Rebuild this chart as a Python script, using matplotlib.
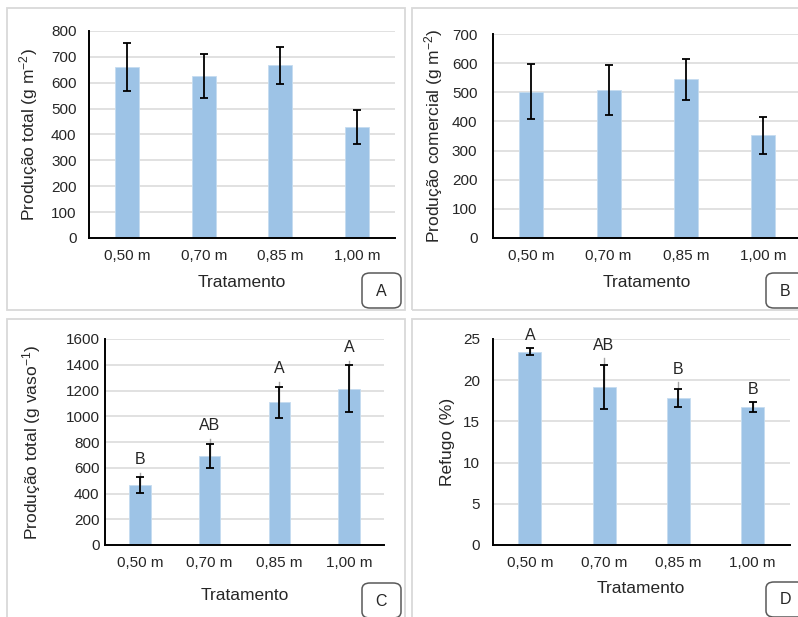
import matplotlib
matplotlib.use("Agg")
import matplotlib.pyplot as plt
from matplotlib.patches import Rectangle, FancyBboxPatch

plt.rcParams['font.family'] = ['Liberation Sans', 'DejaVu Sans']
plt.rcParams['mathtext.fontset'] = 'custom'
plt.rcParams['mathtext.rm'] = 'Liberation Sans'
plt.rcParams['mathtext.default'] = 'regular'

# dados
tratamentos = ["0,50 m", "0,70 m", "0,85 m", "1,00 m"]

prod_total_m2 = [662, 627, 667, 430]
prod_total_m2_err = [93, 85, 72, 65]

prod_comercial = [502, 507, 544, 352]
prod_comercial_err = [94, 86, 71, 63]

prod_vaso = [466, 694, 1108, 1214]
prod_vaso_err = [65, 93, 119, 182]
prod_vaso_sup = [562, 823, 1268, 1431]
letras_vaso = ["B", "AB", "A", "A"]

refugo = [23.45, 19.2, 17.8, 16.75]
refugo_err = [0.45, 2.69, 1.1, 0.57]
refugo_sup = [23.9, 22.66, 19.74, 17.32]
letras_refugo = ["A", "AB", "B", "B"]

W, H = 798, 617
fig = plt.figure(figsize=(W / 100, H / 100), dpi=100)
fig.patch.set_facecolor("white")

bar_color = "#9dc3e6"
grid_color = "#d9d9d9"
text_color = "#262626"


def fx(px):
    return px / W


def fy(py):
    return 1 - py / H


def painel(rect, valores, erros, ylim, ystep, ylabel, ypad, ylab_x, xlab_y,
           sup=None, letras=None):
    ax = fig.add_axes(rect)
    x = range(len(tratamentos))
    ax.bar(x, valores, width=0.31, color=bar_color, edgecolor="#c5dcf0",
           linewidth=0.6, zorder=2)
    if sup is not None:
        for xi, v, s in zip(x, valores, sup):
            ax.plot([xi, xi], [v, s], color="#a6a6a6", lw=1.0, zorder=3)
    ax.errorbar(x, valores, yerr=erros, fmt="none", ecolor="black",
                elinewidth=1.3, capsize=3.2, capthick=1.3, zorder=4)
    if letras is not None:
        for xi, s, l in zip(x, sup, letras):
            ax.annotate(l, (xi, s), xytext=(0, 4), textcoords="offset points",
                        ha="center", va="bottom", fontsize=11.5, color=text_color)
    ax.set_xlim(-0.5, len(tratamentos) - 0.5)
    ax.set_ylim(0, ylim)
    ticks = [i * ystep for i in range(int(round(ylim / ystep)) + 1)]
    ax.set_yticks(ticks)
    ax.set_yticklabels([str(t) for t in ticks])
    ax.set_xticks(list(x))
    ax.set_xticklabels(tratamentos)
    ax.tick_params(axis="both", length=0, labelsize=11, labelcolor=text_color)
    ax.tick_params(axis="y", pad=ypad)
    ax.tick_params(axis="x", pad=8)
    ax.grid(axis="y", color=grid_color, lw=1.1, zorder=0)
    ax.set_axisbelow(True)
    for s in ["top", "right"]:
        ax.spines[s].set_visible(False)
    for s in ["left", "bottom"]:
        ax.spines[s].set_color("black")
        ax.spines[s].set_linewidth(1.4)
        ax.spines[s].set_zorder(5)
    ax.set_ylabel(ylabel, fontsize=12.5, color=text_color)
    ax.yaxis.set_label_coords(ylab_x, 0.5)
    ax.set_xlabel("Tratamento", fontsize=12.5, color=text_color)
    ax.xaxis.set_label_coords(0.5, xlab_y)
    return ax


# molduras dos paineis
for (x0, y0, x1, y1) in [(7, 8, 405, 310), (411.5, 8, 804, 310),
                         (7, 319, 405, 624), (411.5, 319, 804, 624)]:
    fig.patches.append(Rectangle((fx(x0), fy(y1)), fx(x1 - x0), (y1 - y0) / H,
                                 transform=fig.transFigure, fill=False,
                                 edgecolor="#d9d9d9", lw=1.3))

painel([fx(89), fy(238), fx(306), 207 / H], prod_total_m2, prod_total_m2_err,
       800, 100, "Produção total (g m$^{-2}$)", 9, -0.16, -0.18)
painel([fx(492.7), fy(238), fx(309), 204 / H], prod_comercial, prod_comercial_err,
       700, 100, "Produção comercial (g m$^{-2}$)", 11, -0.154, -0.18)
painel([fx(105), fy(545), fx(279), 206 / H], prod_vaso, prod_vaso_err,
       1600, 200, "Produção total (g vaso$^{-1}$)", 4, -0.222, -0.21,
       sup=prod_vaso_sup, letras=letras_vaso)
painel([fx(492.7), fy(545), fx(297), 206 / H], refugo, refugo_err,
       25, 5, "Refugo (%)", 9, -0.127, -0.175,
       sup=refugo_sup, letras=letras_refugo)

# caixas com as letras dos paineis
for (x0, y0, x1, y1, l) in [(362, 273, 401, 308, "A"), (766, 273, 805, 308, "B"),
                            (362, 583, 401, 618, "C"), (766, 582, 805, 617, "D")]:
    fig.patches.append(FancyBboxPatch((fx(x0), fy(y1)), fx(x1 - x0), (y1 - y0) / H,
                                      boxstyle="round,pad=0,rounding_size=0.01",
                                      transform=fig.transFigure, facecolor="white",
                                      edgecolor="#595959", lw=1.1))
    fig.text(fx(x0 + 19.5), fy(y0 + 18), l, ha="center", va="center",
             fontsize=11.5, color=text_color)

fig.savefig("out.png", dpi=100)
